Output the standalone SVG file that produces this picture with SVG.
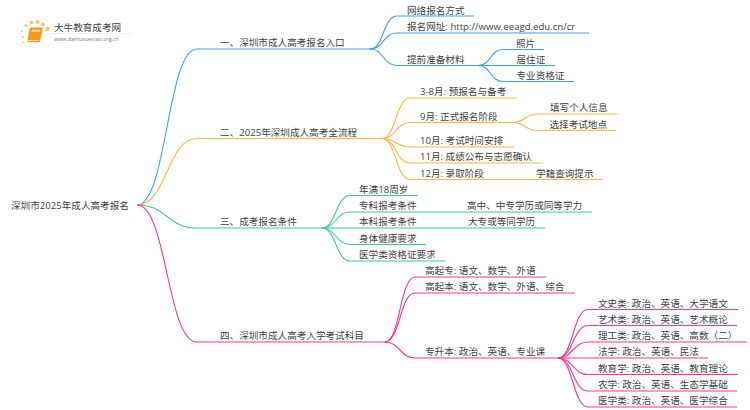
<svg xmlns="http://www.w3.org/2000/svg" width="750" height="410" viewBox="0 0 750 410">
<style>
text{font-family:"Open Sans","Noto Sans CJK SC",sans-serif;font-size:9.6px;fill:#3f3f3f}
.c path{fill:none;stroke-width:1.1}
.b path{stroke:#3f9dfb}
.o path{stroke:#fdb53a}
.g path{stroke:#3ccb92}
.p path{stroke:#fb3391}
</style>
<rect width="750" height="410" fill="#fff"/>
<g id="logo">
<g fill="#fbc65a"><circle cx="22" cy="31" r="1.100"/><circle cx="23" cy="37" r="1.100"/><circle cx="23.500" cy="42.500" r="1"/><circle cx="26" cy="25.500" r="1.500"/><circle cx="31.500" cy="22.500" r="1.800"/><circle cx="37.500" cy="22" r="2"/><circle cx="43" cy="24.500" r="2"/><circle cx="47.500" cy="29" r="2.200"/></g>
<path d="M30.500 27.500h11.500q1 0 .8 1l-2.600 12.500q-.2 1-1.200 1h-11q-1 0-.8-1l2.500-12.500q.2-1 1-1z" fill="#f59a1e"/><path d="M32 29.500h8l-.5 2.500h-8z" fill="#fcd58c"/><path d="M27.500 40.500h11.500" stroke="#fde0a8" stroke-width="1"/>
<text x="54" y="30.500" style="font-size:9.600px;fill:#444">大牛教育成考网</text>
<path d="M46 33.500h87" stroke="#eee" stroke-width="0.800"/>
<text x="54" y="41" style="font-size:5.400px;fill:#777">www.daniuxuexiao.org.cn</text>
</g>
<g id="connectors" class="c">
<g class="b">
<path d="M137 205C167 205 167 49 197 49H370"/>
<path d="M370 49C384 49 383 16 397 16H474"/>
<path d="M370 49C384 49 383 33 397 33H589"/>
<path d="M370 49C384 49 383 65.500 397 65.500H478"/>
<path d="M478 65.500C491 65.500 490 49.500 503 49.500H544"/>
<path d="M478 65.500H555"/>
<path d="M478 65.500C491 65.500 490 81.500 503 81.500H574"/>
</g>
<g class="o">
<path d="M137 205C167 205 167 138.500 197 138.500H382"/>
<path d="M382 138.500C396 138.500 396 98 410 98H517"/>
<path d="M382 138.500C396 138.500 396 122.500 410 122.500H513"/>
<path d="M513 122.500C525 122.500 525 114 537 114H617"/>
<path d="M513 122.500C525 122.500 525 130.500 537 130.500H616"/>
<path d="M382 138.500C396 138.500 396 147 410 147H514"/>
<path d="M382 138.500C396 138.500 396 163 410 163H543"/>
<path d="M382 138.500C396 138.500 396 179.500 410 179.500H603"/>
</g>
<g class="g">
<path d="M137 205C167 205 167 228 197 228H322"/>
<path d="M322 228C336 228 336 195.500 350 195.500H418"/>
<path d="M322 228C336 228 336 212 350 212H592"/>
<path d="M322 228H545"/>
<path d="M322 228C336 228 336 244.500 350 244.500H426"/>
<path d="M322 228C336 228 336 261 350 261H445"/>
</g>
<g class="p">
<path d="M137 205C167 205 167 342 197 342H385"/>
<path d="M385 342C400 342 400 277 415 277H546"/>
<path d="M385 342C400 342 400 293 415 293H575"/>
<path d="M385 342C400 342 400 358 415 358H558"/>
<path d="M558 358C573 358 573 309.500 588 309.500H738"/>
<path d="M558 358C573 358 573 325.500 588 325.500H737"/>
<path d="M558 358C573 358 573 342 588 342H747"/>
<path d="M558 358H708"/>
<path d="M558 358C573 358 573 374.500 588 374.500H738"/>
<path d="M558 358C573 358 573 391 588 391H737"/>
<path d="M558 358C573 358 573 407 588 407H737"/>
</g>
</g>
<g id="root"><text x="11" y="209">深圳市2025年成人高考报名</text></g>
<g id="n1"><text x="220" y="46">一、深圳市成人高考报名入口</text></g>
<g id="n1-1"><text x="407" y="13.500">网络报名方式</text></g>
<g id="n1-2"><text x="407" y="30">报名网址: http://www.eeagd.edu.cn/cr</text></g>
<g id="n1-3"><text x="407" y="62.500">提前准备材料</text></g>
<g id="n1-3-1"><text x="516" y="46.500">照片</text></g>
<g id="n1-3-2"><text x="516.500" y="62.500">居住证</text></g>
<g id="n1-3-3"><text x="516.500" y="78.500">专业资格证</text></g>
<g id="n2"><text x="220" y="135.500">二、2025年深圳成人高考全流程</text></g>
<g id="n2-1"><text x="420" y="95">3-8月: 预报名与备考</text></g>
<g id="n2-2"><text x="420" y="119.500">9月: 正式报名阶段</text></g>
<g id="n2-2-1"><text x="550" y="111">填写个人信息</text></g>
<g id="n2-2-2"><text x="549.500" y="127.500">选择考试地点</text></g>
<g id="n2-3"><text x="420" y="144">10月: 考试时间安排</text></g>
<g id="n2-4"><text x="420" y="160">11月: 成绩公布与志愿确认</text></g>
<g id="n2-5"><text x="420" y="176.500">12月: 录取阶段</text></g>
<g id="n2-5-1"><text x="536" y="176.500">学籍查询提示</text></g>
<g id="n3"><text x="220" y="225">三、成考报名条件</text></g>
<g id="n3-1"><text x="359" y="192.500">年满18周岁</text></g>
<g id="n3-2"><text x="359" y="209">专科报考条件</text></g>
<g id="n3-2-1"><text x="467" y="209">高中、中专学历或同等学力</text></g>
<g id="n3-3"><text x="359" y="225">本科报考条件</text></g>
<g id="n3-3-1"><text x="468" y="225">大专或等同学历</text></g>
<g id="n3-4"><text x="359" y="241.500">身体健康要求</text></g>
<g id="n3-5"><text x="359" y="258">医学类资格证要求</text></g>
<g id="n4"><text x="220" y="339">四、深圳市成人高考入学考试科目</text></g>
<g id="n4-1"><text x="425" y="274">高起专: 语文、数学、外语</text></g>
<g id="n4-2"><text x="425" y="290">高起本: 语文、数学、外语、综合</text></g>
<g id="n4-3"><text x="425" y="355">专升本: 政治、英语、专业课</text></g>
<g id="n4-3-1"><text x="598" y="306.500">文史类: 政治、英语、大学语文</text></g>
<g id="n4-3-2"><text x="598" y="322.500">艺术类: 政治、英语、艺术概论</text></g>
<g id="n4-3-3"><text x="598" y="339">理工类: 政治、英语、高数（二）</text></g>
<g id="n4-3-4"><text x="598" y="355">法学: 政治、英语、民法</text></g>
<g id="n4-3-5"><text x="598" y="371.500">教育学: 政治、英语、教育理论</text></g>
<g id="n4-3-6"><text x="598" y="388">农学: 政治、英语、生态学基础</text></g>
<g id="n4-3-7"><text x="598" y="404">医学类: 政治、英语、医学综合</text></g>
</svg>
